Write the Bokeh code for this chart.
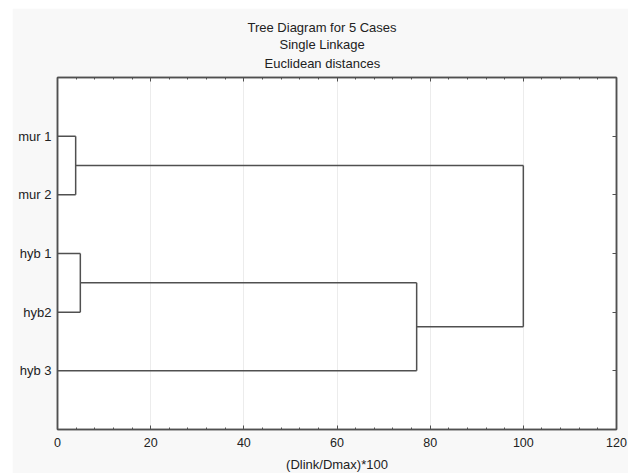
from bokeh.plotting import figure
from bokeh.models import (ColumnDataSource, Range1d, LinearAxis, FixedTicker,
                          SingleIntervalTicker, Title)
from bokeh.embed import file_html
from bokeh.resources import INLINE

# ---- data ----
leaves = ["mur 1", "mur 2", "hyb 1", "hyb2", "hyb 3"]
# cluster ids: 0..4 leaves, then 5, 6, 7, 8 for successive merges
merge_left = [0, 2, 6, 5]
merge_right = [1, 3, 4, 7]
merge_height = [3.9, 4.9, 77.1, 100.0]
title_lines = ["Tree Diagram for 5 Cases", "Single Linkage", "Euclidean distances"]
x_ticks_major = 20
x_label = "(Dlink/Dmax)*100"

# ---- dendrogram geometry from data ----
pos_y = {i: i + 1 for i in range(len(leaves))}
pos_x = {i: 0.0 for i in range(len(leaves))}
x0, y0, x1, y1 = [], [], [], []
for k, (a, b, h) in enumerate(zip(merge_left, merge_right, merge_height)):
    cid = len(leaves) + k
    for c in (a, b):
        x0.append(pos_x[c]); y0.append(pos_y[c]); x1.append(h); y1.append(pos_y[c])
    x0.append(h); y0.append(pos_y[a]); x1.append(h); y1.append(pos_y[b])
    pos_x[cid] = h
    pos_y[cid] = (pos_y[a] + pos_y[b]) / 2.0

src = ColumnDataSource(dict(x0=x0, y0=y0, x1=x1, y1=y1))

FONT = "Liberation Sans"
AX = "#505050"
TXT = "#222222"

p = figure(frame_width=559, frame_height=352, output_backend="svg", toolbar_location=None,
           x_range=Range1d(0, 120), y_range=Range1d(len(leaves) + 1, 0),
           min_border_left=45, min_border_right=12, min_border_top=69,
           min_border_bottom=44)
p.margin = (8, 0, 0, 12)
p.title.visible = False
p.border_fill_color = "#f8f8f8"
p.background_fill_color = "white"
p.outline_line_color = AX
p.outline_line_width = 1.5

xa = p.below[0]
ya = p.left[0]

# bottom axis
xa.ticker = SingleIntervalTicker(interval=x_ticks_major, num_minor_ticks=5)
xa.major_tick_in = 4; xa.major_tick_out = 0
xa.minor_tick_in = 2; xa.minor_tick_out = 0
xa.major_tick_line_color = AX; xa.minor_tick_line_color = AX
xa.axis_line_color = AX; xa.axis_line_width = 1.5
xa.major_label_text_font = FONT; xa.major_label_text_font_size = "12.5px"
xa.major_label_text_color = TXT; xa.major_label_standoff = 8
xa.axis_label = x_label
xa.axis_label_text_font = FONT; xa.axis_label_text_font_size = "13px"
xa.axis_label_text_font_style = "normal"; xa.axis_label_text_color = TXT
xa.axis_label_standoff = 7

# left axis
ya.ticker = FixedTicker(ticks=list(range(1, len(leaves) + 1)))
ya.major_label_overrides = {i + 1: lab for i, lab in enumerate(leaves)}
ya.major_tick_in = 0; ya.major_tick_out = 0
ya.minor_tick_line_color = None
ya.axis_line_color = AX; ya.axis_line_width = 1.5
ya.major_label_text_font = FONT; ya.major_label_text_font_size = "13px"
ya.major_label_text_color = TXT; ya.major_label_standoff = 6

# top axis (ticks only) -- closest to the frame
top = LinearAxis(ticker=SingleIntervalTicker(interval=x_ticks_major, num_minor_ticks=5),
                 major_tick_in=4, major_tick_out=0, minor_tick_in=2, minor_tick_out=0,
                 major_tick_line_color=AX, minor_tick_line_color=AX,
                 axis_line_color=AX, axis_line_width=1.5,
                 major_label_overrides={v: "" for v in range(0, 121, x_ticks_major)},
                 major_label_standoff=0)
p.add_layout(top, "above")

# titles, innermost first; left offsets centre each line near x=323
title_offsets = {0: 190, 1: 222, 2: 207}
title_standoffs = {0: 0, 1: 0, 2: 9}
title_valign = {0: "bottom", 1: "bottom", 2: "top"}
for idx in reversed(range(len(title_lines))):
    t = Title(text=title_lines[idx], align="left", offset=title_offsets[idx],
              vertical_align=title_valign[idx],
              text_font=FONT, text_font_size="13px", text_font_style="normal",
              text_color=TXT, standoff=title_standoffs[idx])
    p.add_layout(t, "above")

# right axis (ticks at leaves only)
right = LinearAxis(ticker=FixedTicker(ticks=list(range(1, len(leaves) + 1))),
                   major_tick_in=4, major_tick_out=0,
                   minor_tick_line_color=None, major_tick_line_color=AX,
                   axis_line_color=AX, axis_line_width=1.5,
                   major_label_overrides={i + 1: "" for i in range(len(leaves))},
                   major_label_standoff=0)
p.add_layout(right, "right")

p.segment("x0", "y0", "x1", "y1", source=src, line_color=AX, line_width=1.5)

p.xgrid.grid_line_color = "#ececec"
p.ygrid.grid_line_color = None

open("out.html", "w").write(file_html(p, INLINE))
